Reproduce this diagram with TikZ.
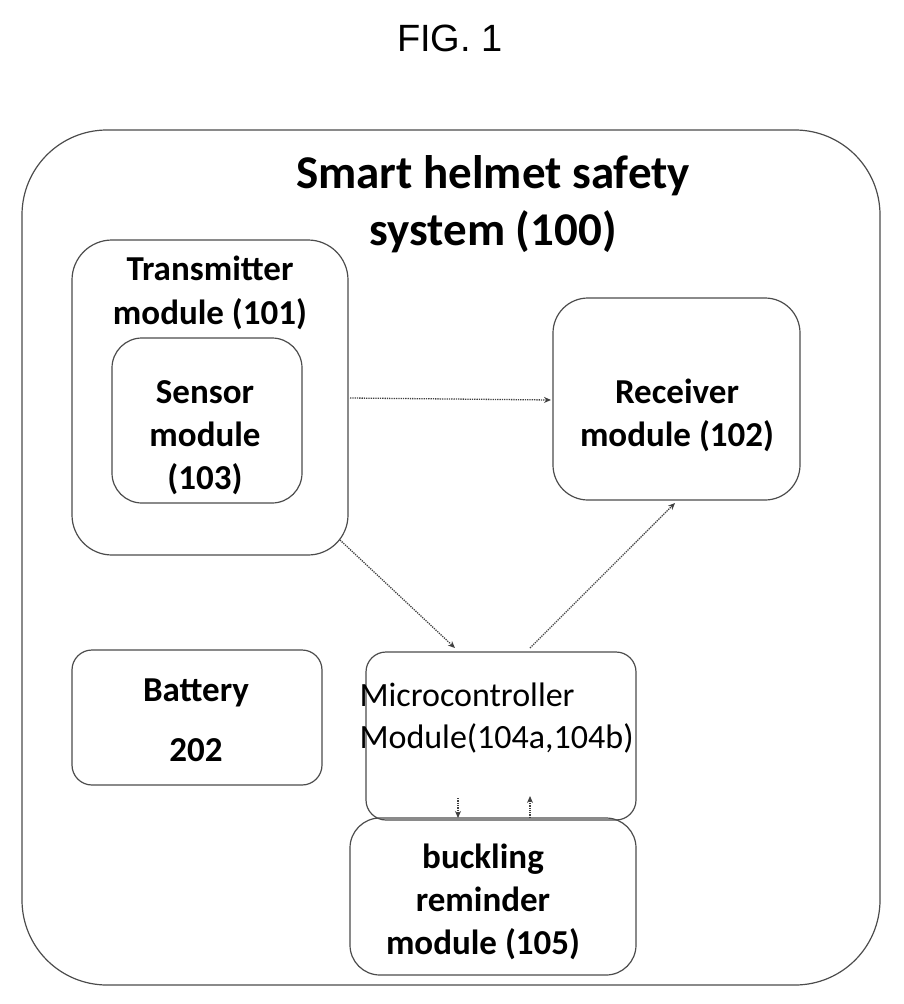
\documentclass[tikz,border=0pt]{standalone}
\usepackage{fontspec}
\setmainfont{Carlito}
\newfontfamily\figfont{Liberation Sans}
\usetikzlibrary{arrows.meta}
\begin{document}
\begin{tikzpicture}[x=1pt,y=-1pt,
  box/.style={draw=black!70,line width=1.2pt,rounded corners=#1},
  lbl/.style={font=\bfseries\fontsize{35}{43}\selectfont,align=center},
  conn/.style={densely dotted,line width=1.3pt,black!75,-{Stealth[length=7pt,width=6pt]}}]
\useasboundingbox (0,0) rectangle (903,1004);
\node[font=\figfont\fontsize{38}{40}\selectfont] (fig) at (450,38) {FIG. 1};
\draw[box=85] (22,130) rectangle (880,985);
\node[font=\bfseries\fontsize{47}{57}\selectfont,align=center] (title) at (493,204) {Smart helmet safety\\system (100)};
\draw[box=40] (72,240) rectangle (348,555);
\node[lbl,font=\bfseries\fontsize{35}{44}\selectfont] (tx) at (210,293) {Transmitter\\module (101)};
\draw[box=30] (112,338) rectangle (302,503);
\node[lbl] (sn) at (205,438) {Sensor\\module\\(103)};
\draw[box=35] (553,298) rectangle (800,500);
\node[lbl] (rx) at (677,415) {Receiver\\module (102)};
\draw[box=20] (72,650) rectangle (322,785);
\node[lbl] (bat) at (196,693) {Battery};
\node[lbl] (batn) at (196,750) {202};
\draw[box=20] (366,652) rectangle (636,820);
\node[font=\fontsize{34}{42}\selectfont,align=left,anchor=west] (mc) at (356,718) {Microcontroller\\Module(104a,104b)};
\draw[box=30] (350,818) rectangle (636,975);
\node[lbl] (bk) at (483,902) {buckling\\reminder\\module (105)};
\coordinate (a1) at (350,398); \coordinate (a2) at (551,400);
\coordinate (b1) at (340,540); \coordinate (b2) at (455,648);
\coordinate (c1) at (530,648); \coordinate (c2) at (675,503);
\coordinate (d1) at (458,798); \coordinate (d2) at (458,818);
\coordinate (e1) at (530,818); \coordinate (e2) at (530,796);
\draw[conn] (a1) -- (a2);
\draw[conn] (b1) -- (b2);
\draw[conn] (c1) -- (c2);
\draw[conn] (d1) -- (d2);
\draw[conn] (e1) -- (e2);
\end{tikzpicture}
\end{document}
